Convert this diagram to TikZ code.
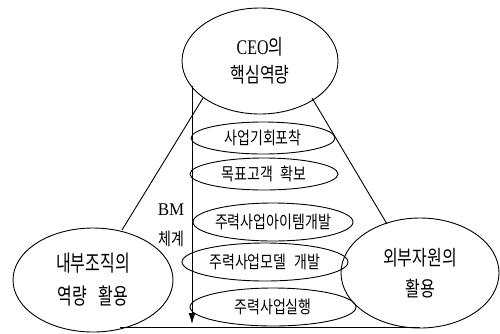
\documentclass[tikz,border=0pt]{standalone}
\usepackage{fontspec}
\usepackage{graphicx}
\setmainfont{Liberation Serif}
\newfontfamily\kr{Noto Sans CJK KR}
\newcommand{\tallA}[1]{\scalebox{1}[1.3]{#1}}
\newcommand{\tallB}[1]{\scalebox{1}[1.4]{#1}}
\newcommand{\tallC}[1]{\makebox[0pt]{\scalebox{1}[1.25]{#1}}}
\usetikzlibrary{shapes.geometric,arrows.meta}
\begin{document}
\begin{tikzpicture}[x=1pt,y=-1pt,
  outl/.style={draw=black, line width=0.9pt},
  big/.style={outl, ellipse, inner sep=0pt, align=center},
  small/.style={outl, ellipse, inner sep=0pt, font=\kr\fontsize{14}{16}\selectfont},
  conn/.style={draw=black, line width=0.9pt}]
\useasboundingbox (0,0) rectangle (500,333);

% main ellipses
\node[big, minimum width=156pt, minimum height=106pt, font=\fontsize{16}{28}\selectfont] (ceo) at (260,61) {\tallA{CEO{\kr 의}}\\\tallA{\kr 핵심역량}};
\node[big, minimum width=160pt, minimum height=104pt, font=\kr\fontsize{16}{33}\selectfont] (inner) at (93,280) {\tallB{내부조직의}\\\tallB{역량\hspace{0.7em}활용}};
\node[big, minimum width=158pt, minimum height=110pt, font=\kr\fontsize{16}{31}\selectfont] (outer) at (420,273) {\tallA{외부자원의}\\\tallA{활용}};

% inner ellipses
\node[small, minimum width=144pt, minimum height=32pt] (e1) at (263,138) {\tallC{사업기회포착}};
\node[small, minimum width=148pt, minimum height=32pt] (e2) at (264,174) {\tallC{목표고객\hspace{0.5em}확보}};
\node[small, minimum width=160pt, minimum height=38pt] (e3) at (273,222) {\tallC{주력사업아이템개발}};
\node[small, minimum width=166pt, minimum height=38pt] (e4) at (265,262) {\tallC{주력사업모델\hspace{0.6em}개발}};
\node[small, minimum width=166pt, minimum height=38pt] (e5) at (273,307) {\tallC{주력사업실행}};

% BM label
\node[align=center, font=\fontsize{17}{30}\selectfont] (bm) at (171,225) {\scalebox{1}[1.05]{BM}\\\scalebox{1}[1.25]{\kr\fontsize{14}{30}\selectfont 체계}};

% triangle
\coordinate (lt) at (203,98);
\coordinate (lb) at (122,230);
\coordinate (rt) at (312,98);
\coordinate (rb) at (387,224);
\coordinate (bl) at (120,327);
\coordinate (br) at (420,327);
\draw[conn] (lt) -- (lb);
\draw[conn] (rt) -- (rb);
\draw[conn] (bl) -- (br);

% BM arrow
\coordinate (atop) at (192,86);
\coordinate (abot) at (192,324);
\draw[conn, -{Latex[length=11pt,width=7pt]}] (atop) -- (abot);
\end{tikzpicture}
\end{document}
